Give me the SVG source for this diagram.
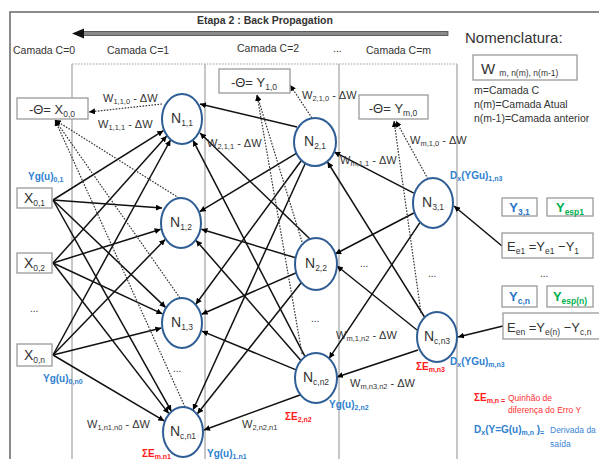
<svg xmlns="http://www.w3.org/2000/svg" width="599" height="459" viewBox="0 0 599 459">
<defs>
<style>
text{font-family:"Liberation Sans",Arial,sans-serif;fill:#333}
.cam{font-size:10.5px}
.w{font-size:11px}
.ws{font-size:7.5px}
.nt{font-size:14px}
.ns{font-size:8.5px}
.box{fill:#fff;stroke:#9a9a9a;stroke-width:1.3}
.node{fill:#fff;stroke:#2f5d95;stroke-width:2}
.c{stroke:#111;stroke-width:1.5;fill:none;marker-end:url(#ah)}
.d{stroke:#333;stroke-width:1.2;stroke-dasharray:1.6 1.4;fill:none;marker-end:url(#ah)}
.layer{stroke:#b4b4b4;stroke-width:1.5;fill:none}
.blue{fill:#2e7fd0;font-weight:bold;font-size:10px}
.red{fill:#ff1a1a;font-weight:bold;font-size:10px}
.bs{font-size:7px}
.dots{font-size:10px}
</style>
<marker id="ah" viewBox="0 0 10 10" refX="10" refY="5" markerWidth="6" markerHeight="6" markerUnits="userSpaceOnUse" orient="auto"><path d="M0,0 L10,5 L0,10 z" fill="#000"/></marker>
</defs>
<rect width="599" height="459" fill="#fff"/>
<rect x="10" y="12" width="640" height="480" fill="none" stroke="#666" stroke-width="1.5"/>

<!-- banner -->
<g id="banner">
<text x="197" y="24" font-size="10.5" font-weight="bold" fill="#222">Etapa 2 : Back Propagation</text>
<rect x="83" y="31.5" width="365" height="4" fill="#8a8a8a" stroke="#333" stroke-width="0.7"/>
<path d="M72,33.5 L84,28.5 L84,38.5 z" fill="#111"/>
</g>

<!-- layer labels -->
<g id="layers">
<text class="cam" x="13" y="54">Camada C=0</text>
<text class="cam" x="107" y="54">Camada C=1</text>
<text class="cam" x="237" y="52">Camada C=2</text>
<text class="cam" x="333" y="52">...</text>
<text class="cam" x="366" y="54">Camada C=m</text>
<line x1="72" y1="64" x2="457" y2="64" stroke="#999" stroke-width="1.2" stroke-dasharray="1.5 1.5"/>
<line class="layer" x1="72" y1="64" x2="72" y2="459"/>
<line class="layer" x1="205" y1="64" x2="205" y2="459"/>
<line class="layer" x1="339" y1="64" x2="339" y2="459"/>
<line class="layer" x1="457" y1="64" x2="457" y2="459"/>
</g>

<!-- nomenclature -->
<g id="nomenclatura">
<text x="465" y="43" font-size="15">Nomenclatura:</text>
<rect class="box" x="473" y="55" width="104" height="25"/>
<text x="481" y="74" font-size="15">W <tspan font-size="8.5" dy="2">m, n(m), n(m-1)</tspan></text>
<text x="474" y="94" font-size="10.5">m=Camada C</text>
<text x="474" y="108" font-size="10.5">n(m)=Camada Atual</text>
<text x="474" y="122" font-size="10.5">n(m-1)=Camada anterior</text>
</g>

<!-- connectors -->
<g id="connectors">
<!-- layer 0 to layer 1 -->
<line class="c" x1="53" y1="200" x2="163.4" y2="130.7"/>
<line class="c" x1="53" y1="200" x2="162" y2="208"/>
<line class="c" x1="53" y1="200" x2="165.6" y2="307.4"/>
<line class="c" x1="53" y1="200" x2="171.3" y2="411.2"/>
<line class="c" x1="53" y1="263" x2="166.7" y2="136.1"/>
<line class="c" x1="53" y1="263" x2="160.7" y2="229.3"/>
<line class="c" x1="53" y1="263" x2="162.4" y2="313.9"/>
<line class="c" x1="53" y1="263" x2="168.8" y2="413.6"/>
<line class="c" x1="53" y1="355" x2="170.5" y2="140"/>
<line class="c" x1="53" y1="355" x2="165.1" y2="239.4"/>
<line class="c" x1="53" y1="355" x2="161.4" y2="328.1"/>
<line class="c" x1="53" y1="355" x2="164.2" y2="420.9"/>
<!-- layer 2 to layer 1 -->
<line class="c" x1="297" y1="127" x2="200" y2="104"/>
<line class="c" x1="310" y1="239" x2="200" y2="133"/>
<line class="c" x1="305" y1="356.7" x2="193" y2="140.3"/>
<line class="c" x1="296.3" y1="153.3" x2="199.7" y2="211.7"/>
<line class="c" x1="295.6" y1="257.8" x2="201.4" y2="229.2"/>
<line class="c" x1="300.9" y1="360.6" x2="196.1" y2="240.4"/>
<line class="c" x1="301.2" y1="160.8" x2="195.8" y2="304.2"/>
<line class="c" x1="296.3" y1="272.7" x2="201.7" y2="314.3"/>
<line class="c" x1="296.1" y1="369.9" x2="201.9" y2="331.1"/>
<line class="c" x1="305" y1="164" x2="193" y2="410"/>
<line class="c" x1="301.6" y1="282.2" x2="197.4" y2="413.8"/>
<line class="c" x1="300" y1="395" x2="204" y2="430"/>
<!-- layer m to layer 2 -->
<line class="c" x1="413.8" y1="193.1" x2="334.2" y2="151.9"/>
<line class="c" x1="413.8" y1="213" x2="335.2" y2="254"/>
<line class="c" x1="419.9" y1="222.6" x2="329.1" y2="358.4"/>
<line class="c" x1="424.5" y1="317" x2="327.5" y2="162"/>
<line class="c" x1="417" y1="330" x2="337" y2="266"/>
<line class="c" x1="418" y1="350" x2="337" y2="377"/>
<!-- errors to output layer -->
<line class="c" x1="502" y1="246" x2="454" y2="206"/>
<line class="c" x1="503" y1="326" x2="458" y2="337"/>
<!-- bias (dotted) -->
<line class="d" x1="162" y1="104" x2="89" y2="112"/>
<line class="d" x1="179" y1="198" x2="55" y2="120"/>
<line class="d" x1="180" y1="298" x2="55" y2="120"/>
<line class="d" x1="185" y1="407" x2="55" y2="120"/>
<line class="d" x1="312" y1="118" x2="290" y2="85"/>
<line class="d" x1="302" y1="242" x2="257" y2="95"/>
<line class="d" x1="302" y1="354" x2="257" y2="95"/>
<line class="d" x1="428" y1="179" x2="396" y2="121"/>
<line class="d" x1="421" y1="313" x2="394" y2="121"/>
</g>

<!-- theta boxes -->
<g id="theta00">
<rect class="box" x="17" y="98" width="71" height="21"/>
<text x="52" y="114" text-anchor="middle" font-size="13">-Θ= X<tspan font-size="8.5" dy="3">0,0</tspan></text>
</g>
<g id="theta10">
<rect class="box" x="219" y="69" width="71" height="24"/>
<text x="254" y="87" text-anchor="middle" font-size="13">-Θ= Y<tspan font-size="8.5" dy="3">1,0</tspan></text>
</g>
<g id="thetam0">
<rect class="box" x="359" y="95" width="69" height="24"/>
<text x="393" y="113" text-anchor="middle" font-size="13">-Θ= Y<tspan font-size="8.5" dy="3">m,0</tspan></text>
</g>

<!-- inputs -->
<g id="x01">
<rect class="box" x="17" y="188" width="35" height="20"/>
<text x="34.5" y="203" text-anchor="middle" class="nt">X<tspan class="ns" dy="3">0,1</tspan></text>
</g>
<g id="x02">
<rect class="box" x="17" y="253" width="35" height="20"/>
<text x="34.5" y="268" text-anchor="middle" class="nt">X<tspan class="ns" dy="3">0,2</tspan></text>
</g>
<g id="x0n">
<rect class="box" x="17" y="344" width="35" height="22"/>
<text x="34.5" y="360" text-anchor="middle" class="nt">X<tspan class="ns" dy="3">0,n</tspan></text>
</g>

<!-- neurons -->
<g id="n11"><ellipse class="node" cx="182" cy="119" rx="20" ry="25"/><text x="182" y="123" text-anchor="middle" class="nt">N<tspan class="ns" dy="3">1,1</tspan></text></g>
<g id="n12"><ellipse class="node" cx="181" cy="223" rx="20" ry="25"/><text x="181" y="227" text-anchor="middle" class="nt">N<tspan class="ns" dy="3">1,2</tspan></text></g>
<g id="n13"><ellipse class="node" cx="182" cy="323" rx="20" ry="25"/><text x="182" y="327" text-anchor="middle" class="nt">N<tspan class="ns" dy="3">1,3</tspan></text></g>
<g id="ncn1"><ellipse class="node" cx="183" cy="432" rx="20" ry="25"/><text x="183" y="436" text-anchor="middle" class="nt">N<tspan class="ns" dy="3">c,n1</tspan></text></g>
<g id="n21"><ellipse class="node" cx="315" cy="142" rx="21" ry="24"/><text x="315" y="146" text-anchor="middle" class="nt">N<tspan class="ns" dy="3">2,1</tspan></text></g>
<g id="n22"><ellipse class="node" cx="316" cy="264" rx="21" ry="26"/><text x="316" y="268" text-anchor="middle" class="nt">N<tspan class="ns" dy="3">2,2</tspan></text></g>
<g id="ncn2"><ellipse class="node" cx="316" cy="378" rx="21" ry="25"/><text x="316" y="382" text-anchor="middle" class="nt">N<tspan class="ns" dy="3">c,n2</tspan></text></g>
<g id="n31"><ellipse class="node" cx="433" cy="203" rx="20" ry="25"/><text x="433" y="207" text-anchor="middle" class="nt">N<tspan class="ns" dy="3">3,1</tspan></text></g>
<g id="ncn3"><ellipse class="node" cx="437" cy="337" rx="20" ry="25"/><text x="437" y="341" text-anchor="middle" class="nt">N<tspan class="ns" dy="3">c,n3</tspan></text></g>

<!-- output / error boxes -->
<g id="y31">
<rect class="box" x="502" y="198" width="35" height="18"/>
<text x="519.5" y="212" text-anchor="middle" font-size="13" font-weight="bold" style="fill:#2e75c6">Y<tspan font-size="8.5" dy="3">3,1</tspan></text>
</g>
<g id="yesp1">
<rect class="box" x="547" y="198" width="46" height="18"/>
<text x="570" y="212" text-anchor="middle" font-size="13" font-weight="bold" style="fill:#00b050">Y<tspan font-size="8.5" dy="3">esp1</tspan></text>
</g>
<g id="ee1">
<rect class="box" x="502" y="233" width="91" height="25"/>
<text x="507" y="251" font-size="13">E<tspan font-size="8.5" dy="3">e1</tspan><tspan dy="-3"> =Y</tspan><tspan font-size="8.5" dy="3">e1</tspan><tspan dy="-3"> −Y</tspan><tspan font-size="8.5" dy="3">1</tspan></text>
</g>
<g id="ycn">
<rect class="box" x="502" y="286" width="35" height="21"/>
<text x="519.5" y="301" text-anchor="middle" font-size="13" font-weight="bold" style="fill:#2e75c6">Y<tspan font-size="8.5" dy="3">c,n</tspan></text>
</g>
<g id="yespn">
<rect class="box" x="547" y="286" width="46" height="21"/>
<text x="570" y="301" text-anchor="middle" font-size="13" font-weight="bold" style="fill:#00b050">Y<tspan font-size="8.5" dy="3">esp(n)</tspan></text>
</g>
<g id="een">
<rect class="box" x="503" y="313" width="100" height="26"/>
<text x="507" y="332" font-size="13">E<tspan font-size="8.5" dy="3">en</tspan><tspan dy="-3"> =Y</tspan><tspan font-size="8.5" dy="3">e(n)</tspan><tspan dy="-3"> −Y</tspan><tspan font-size="8.5" dy="3">c,n</tspan></text>
</g>

<!-- weight labels -->
<g id="weights">
<text class="w" x="103" y="102">W<tspan class="ws" dy="2">1,1,0</tspan><tspan dy="-2"> - ΔW</tspan></text>
<text class="w" x="98" y="128">W<tspan class="ws" dy="2">1,1,1</tspan><tspan dy="-2"> - ΔW</tspan></text>
<text class="w" x="207" y="147">W<tspan class="ws" dy="2">2,1,1</tspan><tspan dy="-2"> - ΔW</tspan></text>
<text class="w" x="302" y="99">W<tspan class="ws" dy="2">2,1,0</tspan><tspan dy="-2"> - ΔW</tspan></text>
<text class="w" x="410" y="144">W<tspan class="ws" dy="2">m,1,0</tspan><tspan dy="-2"> - ΔW</tspan></text>
<text class="w" x="340" y="164">W<tspan class="ws" dy="2">m,1,1</tspan><tspan dy="-2"> - ΔW</tspan></text>
<text class="w" x="336" y="339">W<tspan class="ws" dy="2">m,1,n2</tspan><tspan dy="-2"> - ΔW</tspan></text>
<text class="w" x="350" y="387">W<tspan class="ws" dy="2">m,n3,n2</tspan><tspan dy="-2"> - ΔW</tspan></text>
<text class="w" x="242" y="428">W<tspan class="ws" dy="2">2,n2,n1</tspan></text>
<text class="w" x="87" y="428">W<tspan class="ws" dy="2">1,n1,n0</tspan><tspan dy="-2"> - ΔW</tspan></text>
</g>

<!-- ellipses (dots) -->
<g id="dots">
<text class="dots" x="30" y="312">...</text>
<text class="dots" x="173" y="372">...</text>
<text class="dots" x="311" y="322">...</text>
<text class="dots" x="360" y="267">...</text>
<text class="dots" x="428" y="277">...</text>
<text class="dots" x="540" y="277">...</text>
</g>

<!-- blue / red annotations -->
<g id="annotations">
<text class="blue" x="28" y="180">Yg(u)<tspan class="bs" dy="2">0,1</tspan></text>
<text class="blue" x="43" y="382">Yg(u)<tspan class="bs" dy="2">0,n0</tspan></text>
<text class="blue" x="207" y="457">Yg(u)<tspan class="bs" dy="2">1,n1</tspan></text>
<text class="blue" x="329" y="408">Yg(u)<tspan class="bs" dy="2">2,n2</tspan></text>
<text class="blue" x="450" y="179">D<tspan class="bs" dy="2">x</tspan><tspan dy="-2">(YGu)</tspan><tspan class="bs" dy="2">1,n3</tspan></text>
<text class="blue" x="450" y="365">D<tspan class="bs" dy="2">x</tspan><tspan dy="-2">(YGu)</tspan><tspan class="bs" dy="2">m,n3</tspan></text>
<text class="red" x="142" y="457">ΣE<tspan class="bs" dy="2">m,n1</tspan></text>
<text class="red" x="285" y="420">ΣE<tspan class="bs" dy="2">2,n2</tspan></text>
<text class="red" x="416" y="370">ΣE<tspan class="bs" dy="2">m,n3</tspan></text>
</g>

<!-- legend -->
<g id="legend">
<text class="red" x="474" y="401">ΣE<tspan class="bs" dy="2">m,n =</tspan></text>
<text x="508" y="401" font-size="8.5" style="fill:#ff3030">Quinhão de</text>
<text x="508" y="413" font-size="8.5" style="fill:#ff3030">diferença do Erro Y</text>
<text class="blue" x="474" y="433">D<tspan class="bs" dy="2">x</tspan><tspan dy="-2">(Y=G(u)</tspan><tspan class="bs" dy="2">m,n</tspan><tspan dy="-2"> )</tspan><tspan class="bs" dy="2">=</tspan></text>
<text x="550" y="433" font-size="8.5" style="fill:#3a86d6">Derivada da</text>
<text x="550" y="447" font-size="8.5" style="fill:#3a86d6">saída</text>
</g>
</svg>
